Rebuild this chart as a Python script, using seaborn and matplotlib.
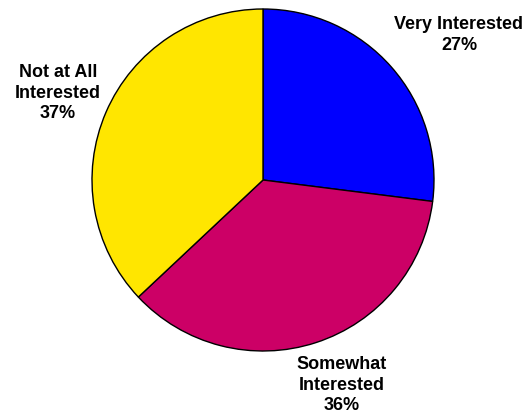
import matplotlib
matplotlib.use("Agg")
import matplotlib.pyplot as plt
import seaborn as sns

sns.set_theme(style="white")
plt.rcParams['font.family'] = ['Liberation Sans', 'DejaVu Sans']

# data
categories = ['Very Interested', 'Somewhat\nInterested', 'Not at All\nInterested']
shares = [27, 36, 37]
colors = ['#0000FF', '#CC0066', '#FFE600']

fig = plt.figure(figsize=(5.28, 4.15), dpi=100)
ax = fig.add_axes([0, 0, 1, 1])

wedges, _ = ax.pie(shares, colors=colors, startangle=90, counterclock=False,
                   center=(263, 235), radius=171,
                   wedgeprops=dict(edgecolor='black', linewidth=1))

ax.set_xlim(0, 528)
ax.set_ylim(0, 415)
ax.set_aspect('equal')
ax.axis('off')

# labels
label_pos = [(459, 380), (342, 30), (58, 322)]
for cat, val, (x, y) in zip(categories, shares, label_pos):
    ax.text(x, y, f"{cat}\n{val}%", ha='center', va='center', fontsize=13,
            fontweight='bold', linespacing=1.3, color='black')

fig.savefig('out.png', dpi=100)
